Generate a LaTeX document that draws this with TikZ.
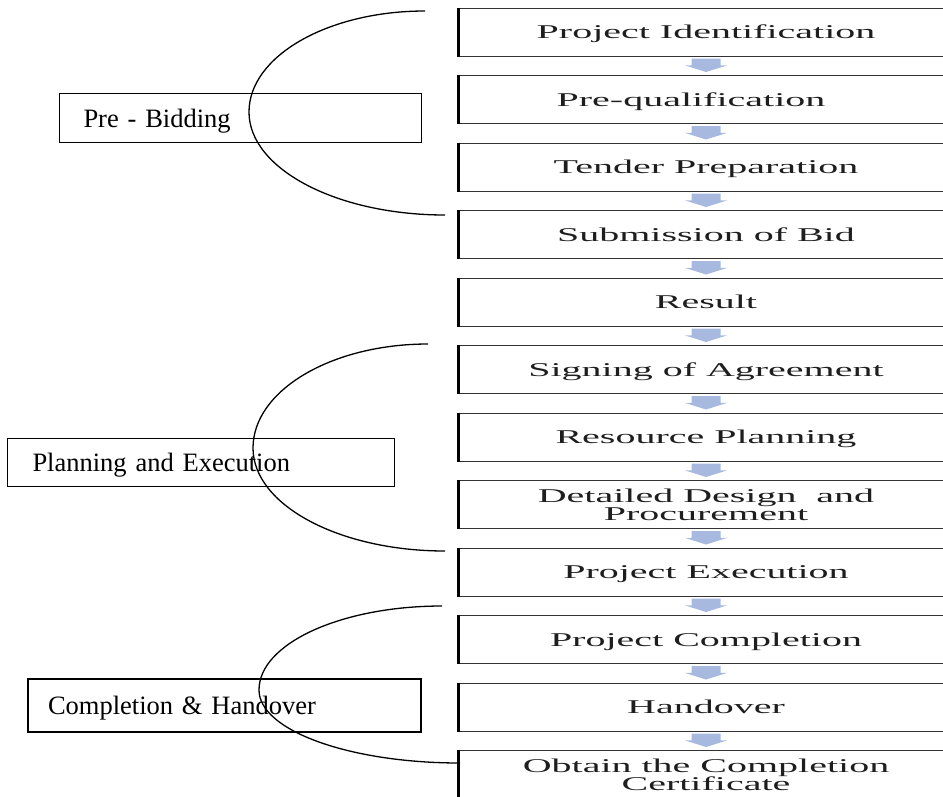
\documentclass[tikz,border=0pt]{standalone}
\usepackage{fontspec}
\setmainfont{Liberation Serif}
\usepackage{graphicx}
\usetikzlibrary{calc}
\definecolor{arrowblue}{RGB}{167,185,222}
\definecolor{boxline}{RGB}{50,50,50}
\definecolor{boxtext}{RGB}{30,30,30}
\newcommand{\bx}[1]{\scalebox{2.05}[1]{#1}}
\newcommand{\stagefont}{\fontsize{19.5}{18}\selectfont\setlength{\lineskiplimit}{-30pt}\setlength{\lineskip}{0pt}}
\tikzset{
  stagebox/.style={rectangle, draw=boxline, line width=1pt, minimum width=494pt,
    minimum height=48pt, inner sep=0pt, align=center, text=boxtext,
    font=\stagefont},
  oneline/.style={text height=13.5pt, text depth=0pt},
  phasebox/.style={rectangle, draw=black, line width=1pt, inner ysep=0pt,
    align=left, font=\fontsize{26.5}{30}\selectfont, text height=18pt, text depth=0pt},
  bracecurve/.style={draw=black, line width=1.3pt},
  leftedge/.style={draw=black, line width=3pt},
  blockarrow/.style={fill=arrowblue},
}
\newcommand{\flowarrow}[2]{%
  \fill[blockarrow] let \p1=($(#1.south)+(0,2)$), \p2=($(#2.north)+(0,-3)$) in
    (\x1-14.5pt,\y1) -- (\x1+14.5pt,\y1) -- (\x1+14.5pt,{0.5*\y1+0.5*\y2})
    -- (\x1+21.5pt,{0.5*\y1+0.5*\y2}) -- (\x2,\y2) -- (\x1-21.5pt,{0.5*\y1+0.5*\y2})
    -- (\x1-14.5pt,{0.5*\y1+0.5*\y2}) -- cycle;}
\begin{document}
\begin{tikzpicture}[x=1pt,y=-1pt]
\useasboundingbox (0,0) rectangle (943,796);
\clip (0,0) rectangle (943,796);
% stage boxes
\node[stagebox, oneline] (b1)  at (706,32)    {\bx{Project Identification}};
\node[stagebox, oneline] (b2)  at (706,99.5)  {\bx{Pre-qualification}\hspace*{30pt}};
\node[stagebox, oneline] (b3)  at (706,167)   {\bx{Tender Preparation}};
\node[stagebox, oneline] (b4)  at (706,234.5) {\bx{Submission of Bid}};
\node[stagebox, oneline] (b5)  at (706,302)   {\bx{Result}};
\node[stagebox, oneline] (b6)  at (706,369.5) {\bx{Signing of Agreement}};
\node[stagebox, oneline] (b7)  at (706,437)   {\bx{Resource Planning}};
\node[stagebox] (b8)  at (706,504.5) {\bx{Detailed Design\ \ and}\\\bx{Procurement}};
\node[stagebox, oneline] (b9)  at (706,572)   {\bx{Project Execution}};
\node[stagebox, oneline] (b10) at (706,639.5) {\bx{Project Completion}};
\node[stagebox, oneline] (b11) at (706,707)   {\bx{Handover}};
\node[stagebox] (b12) at (706,774.5) {\bx{Obtain the Completion}\\\bx{Certificate}};
\foreach \n in {b1,b2,b3,b4,b5,b6,b7,b8,b9,b10,b11,b12}
  \draw[leftedge] (\n.north west) -- (\n.south west);
\foreach \a/\b in {b1/b2,b2/b3,b3/b4,b4/b5,b5/b6,b6/b7,b7/b8,b8/b9,b9/b10,b10/b11,b11/b12}
  \flowarrow{\a}{\b};
% phase labels
\node[phasebox, anchor=north west, inner xsep=24pt, text width=314pt,
  minimum width=362pt, minimum height=49pt] (pre) at (59,93) {Pre - Bidding};
\node[phasebox, anchor=north west, inner xsep=25pt, text width=337pt,
  minimum width=387pt, minimum height=48pt] (plan) at (7,438) {Planning and Execution};
\node[phasebox, anchor=north west, inner xsep=20pt, text width=353pt, line width=2pt,
  minimum width=393pt, minimum height=53pt] (comp) at (27,678) {Completion \& Handover};
% brace curves
\coordinate (preT) at (425,11);  \coordinate (preL) at (249,112);  \coordinate (preB) at (445,215);
\coordinate (plaT) at (428,344); \coordinate (plaL) at (253,448);  \coordinate (plaB) at (445,551);
\coordinate (comT) at (442,606); \coordinate (comL) at (259,690);  \coordinate (comB) at (460,763);
\draw[bracecurve] (preT) .. controls (327.8,11) and (249,56.2) .. (preL)
  .. controls (249,168.9) and (336.8,215) .. (preB);
\draw[bracecurve] (plaT) .. controls (331.3,344) and (253,390.6) .. (plaL)
  .. controls (253,504.9) and (339,551) .. (plaB);
\draw[bracecurve] (comT) .. controls (340.9,606) and (259,643.6) .. (comL)
  .. controls (259,730.3) and (349,763) .. (comB);
\end{tikzpicture}
\end{document}
